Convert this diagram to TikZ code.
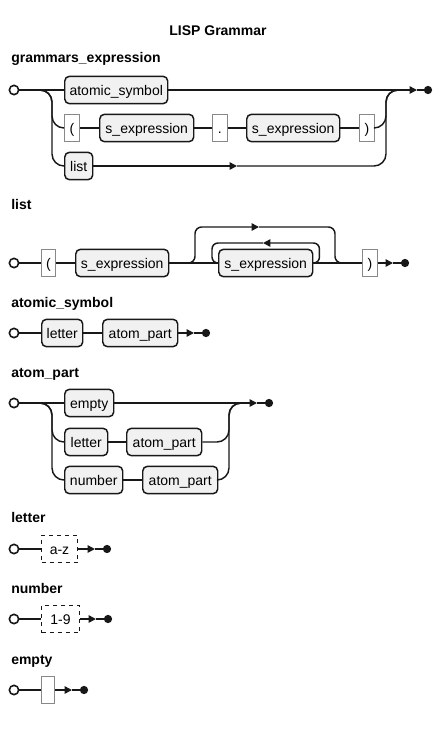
\documentclass[tikz,border=0pt]{standalone}
\usepackage{fontspec}
\setmainfont{Liberation Sans}
\usetikzlibrary{arrows.meta}
\definecolor{ntfill}{HTML}{F1F1F1}
\definecolor{tborder}{HTML}{888888}
\definecolor{ink}{HTML}{181818}

\begin{document}
\begin{tikzpicture}[x=0.75pt,y=-0.75pt,
  wire/.style={draw=ink,line width=1.1pt},
  fwd/.style={wire,-{Triangle[length=5.5pt,width=5.5pt]}},
  curvewire/.style={wire,rounded corners=9pt},
  tightwire/.style={wire,rounded corners=5pt},
  box/.style={anchor=west,font=\fontsize{10.5}{12}\selectfont,text height=9.3pt,text depth=1.0pt,inner sep=0pt,minimum height=20.5pt},
  nt/.style={box,draw=ink,line width=1.1pt,fill=ntfill,rounded corners=3.5pt,minimum width=#1*0.75pt},
  term/.style={box,draw=tborder,line width=0.6pt,fill=white,minimum width=#1*0.75pt},
  dterm/.style={box,draw=ink,line width=0.75pt,dashed,fill=white,minimum width=#1*0.75pt},
  startpt/.style={circle,draw=ink,line width=1.2pt,fill=white,minimum size=7pt,inner sep=0pt},
  endpt/.style={circle,fill=ink,minimum size=6.2pt,inner sep=0pt},
  head/.style={font=\bfseries\fontsize{10.5}{12}\selectfont,anchor=base west,inner sep=0pt},
]
\useasboundingbox (0,0) rectangle (442,729);

\node[font=\bfseries\fontsize{10.5}{12}\selectfont,anchor=base,inner sep=0pt] (title) at (218,35) {LISP Grammar};

% ---------------- grammars_expression
\node[head] (h1) at (11,62) {grammars\_expression};
\node[startpt] (g0) at (14,90) {};
\node[nt=103] (gA) at (64,90) {atomic\_symbol};
\node[term=15] (gL) at (64,128) {(};
\node[nt=94] (gS1) at (99,128) {s\_expression};
\node[term=15] (gD) at (212,128) {.};
\node[nt=93] (gS2) at (246,128) {s\_expression};
\node[term=15] (gR) at (359,128) {)};
\node[nt=28] (gList) at (64,166) {list};
\node[endpt] (g9) at (428,90) {};
\coordinate (gsplit) at (40,90);
\coordinate (gjoin) at (386,90);
\coordinate (gmerge) at (398,90);
\coordinate (gtip) at (417,90);
\coordinate (gltip) at (237,166);

\draw[wire] (g0) -- (gA);
\draw[curvewire] (gsplit) -- ++(12,0) |- (gL.west);
\draw[curvewire] (gsplit) -- ++(12,0) |- (gList.west);
\draw[wire] (gL) -- (gS1);
\draw[wire] (gS1) -- (gD);
\draw[wire] (gD) -- (gS2);
\draw[wire] (gS2) -- (gR);
\draw[fwd] (gA) -- (gtip);
\draw[wire] (gtip) -- (g9);
\draw[curvewire] (gR.east) -| (gjoin) -- (gmerge);
\draw[fwd] (gList) -- (gltip);
\draw[curvewire] (gltip) -| (gjoin) -- (gmerge);

% ---------------- list
\node[head] (h2) at (11,209) {list};
\node[startpt] (l0) at (14,263) {};
\node[term=14] (lL) at (41,263) {(};
\node[nt=93] (lS) at (75,263) {s\_expression};
\node[nt=94] (lR) at (218,263) {s\_expression};
\node[term=15] (lE) at (362,263) {)};
\node[endpt] (l9) at (405,263) {};
\coordinate (ltip) at (393,263);
\coordinate (lskip) at (183,263);
\coordinate (lover) at (259,227);
\coordinate (lback) at (263,243);

\draw[wire] (l0) -- (lL);
\draw[wire] (lL) -- (lS);
\draw[wire] (lS) -- (lR);
\draw[wire] (lR) -- (lE);
\draw[fwd] (lE) -- (ltip);
\draw[wire] (ltip) -- (l9);
% bypass over the repeated item
\draw[tightwire,-{Triangle[length=5.5pt,width=5.5pt]}] (lskip) -- ++(12,0) |- (lover);
\draw[tightwire] (lover) -| (335,263) -- (347,263);
% loop back for repetition
\draw[wire,rounded corners=4.5pt,-{Triangle[length=5.5pt,width=5.5pt]}] (lR.east) -- ++(6,0) |- (lback);
\draw[wire,rounded corners=4.5pt] (lback) -| (212,263) -- (lR.west);

% ---------------- atomic_symbol
\node[head] (h3) at (11,307) {atomic\_symbol};
\node[startpt] (a0) at (14,333) {};
\node[nt=41] (aL) at (41,333) {letter};
\node[nt=75] (aP) at (102,333) {atom\_part};
\node[endpt] (a9) at (206,333) {};
\coordinate (atip) at (194,333);
\draw[wire] (a0) -- (aL);
\draw[wire] (aL) -- (aP);
\draw[fwd] (aP) -- (atip);
\draw[wire] (atip) -- (a9);

% ---------------- atom_part
\node[head] (h4) at (11,377) {atom\_part};
\node[startpt] (p0) at (14,403) {};
\node[nt=49] (pE) at (64,403) {empty};
\node[nt=43] (pL) at (64,442) {letter};
\node[nt=75] (pLA) at (126,442) {atom\_part};
\node[nt=58] (pN) at (64,480) {number};
\node[nt=75] (pNA) at (142,480) {atom\_part};
\node[endpt] (p9) at (269,403) {};
\coordinate (psplit) at (40,403);
\coordinate (pjoin) at (229,403);
\coordinate (pmerge) at (241,403);
\coordinate (ptip) at (257,403);
\draw[wire] (p0) -- (pE);
\draw[curvewire] (psplit) -- ++(12,0) |- (pL.west);
\draw[curvewire] (psplit) -- ++(12,0) |- (pN.west);
\draw[wire] (pL) -- (pLA);
\draw[wire] (pN) -- (pNA);
\draw[fwd] (pE) -- (ptip);
\draw[wire] (ptip) -- (p9);
\draw[curvewire] (pLA.east) -| (pjoin) -- (pmerge);
\draw[curvewire] (pNA.east) -| (pjoin) -- (pmerge);

% ---------------- letter
\node[head] (h5) at (11,522) {letter};
\node[startpt] (t0) at (14,549) {};
\node[dterm=36] (tR) at (41,549) {a-z};
\node[endpt] (t9) at (107,549) {};
\coordinate (ttip) at (95,549);
\draw[wire] (t0) -- (tR);
\draw[fwd] (tR) -- (ttip);
\draw[wire] (ttip) -- (t9);

% ---------------- number
\node[head] (h6) at (11,593) {number};
\node[startpt] (n0) at (14,619) {};
\node[dterm=38] (nR) at (41,619) {1-9};
\node[endpt] (n9) at (108,619) {};
\coordinate (ntip) at (96,619);
\draw[wire] (n0) -- (nR);
\draw[fwd] (nR) -- (ntip);
\draw[wire] (ntip) -- (n9);

% ---------------- empty
\node[head] (h7) at (11,664) {empty};
\node[startpt] (e0) at (14,690) {};
\node[term=13] (eB) at (41,690) {};
\node[endpt] (e9) at (84,690) {};
\coordinate (etip) at (72,690);
\draw[wire] (e0) -- (eB);
\draw[fwd] (eB) -- (etip);
\draw[wire] (etip) -- (e9);

\end{tikzpicture}
\end{document}
